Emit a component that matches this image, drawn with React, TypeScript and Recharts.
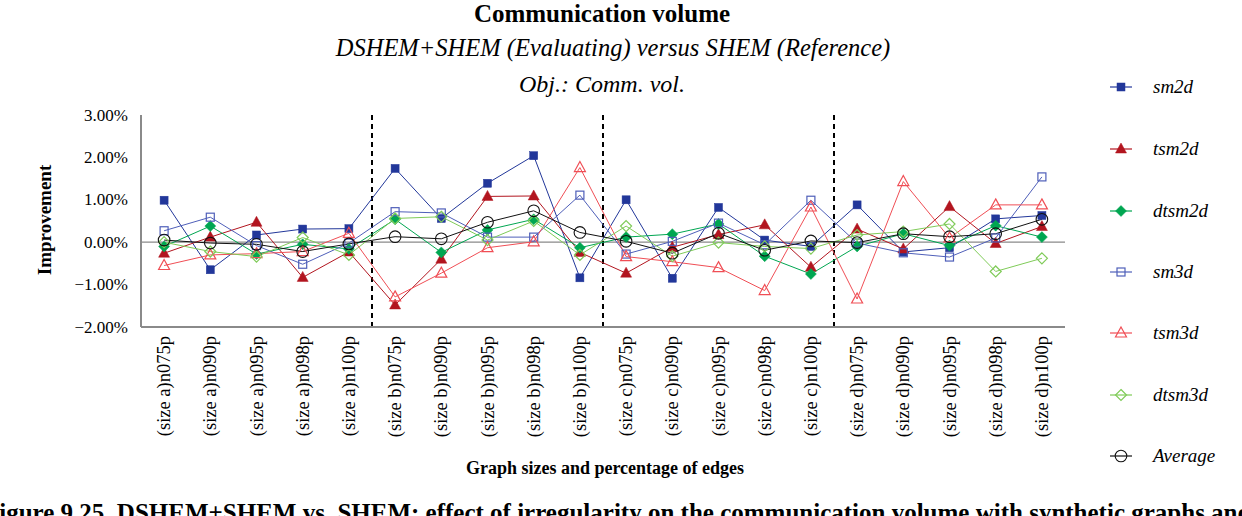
import React from 'react';
import { LineChart, Line, XAxis, YAxis, ReferenceLine } from 'recharts';

const sizes = ['a', 'b', 'c', 'd'];
const edgePcts = ['n075p', 'n090p', 'n095p', 'n098p', 'n100p'];
const categories: string[] = sizes.flatMap((s) => edgePcts.map((p) => `(size ${s})${p}`));

const sm2d = [0.99, -0.65, 0.17, 0.31, 0.32, 1.74, 0.56, 1.39, 2.04, -0.84, 1.0, -0.85, 0.82, 0.05, -0.1, 0.88, -0.23, -0.13, 0.55, 0.63];
const tsm2d = [-0.26, 0.12, 0.47, -0.83, -0.23, -1.48, -0.4, 1.08, 1.09, -0.24, -0.73, -0.12, 0.18, 0.41, -0.59, 0.31, -0.16, 0.84, -0.03, 0.37];
const dtsm2d = [-0.1, 0.38, -0.28, -0.05, -0.16, 0.54, -0.24, 0.29, 0.54, -0.13, 0.12, 0.19, 0.43, -0.33, -0.75, -0.1, 0.2, -0.08, 0.39, 0.12];
const sm3d = [0.27, 0.59, -0.08, -0.52, -0.02, 0.72, 0.69, 0.12, 0.12, 1.11, -0.28, 0.02, 0.45, -0.06, 0.99, -0.02, -0.25, -0.35, 0.1, 1.54];
const tsm3d = [-0.55, -0.3, -0.27, -0.22, 0.21, -1.29, -0.73, -0.13, 0.01, 1.76, -0.34, -0.46, -0.6, -1.14, 0.83, -1.34, 1.43, 0.1, 0.88, 0.88];
const dtsm3d = [0.0, -0.22, -0.34, 0.11, -0.3, 0.56, 0.6, 0.05, 0.5, -0.3, 0.38, -0.33, -0.01, -0.1, -0.15, 0.17, 0.25, 0.43, -0.69, -0.38];
const average = [0.05, -0.02, -0.05, -0.22, -0.04, 0.13, 0.08, 0.47, 0.74, 0.23, 0.02, -0.26, 0.21, -0.19, 0.03, -0.01, 0.2, 0.13, 0.2, 0.54];

const yTicks = [-2, -1, 0, 1, 2, 3];
// group separators sit between categories (after each group of 5)
const groupBoundaries = [5, 10, 15];

type Shape = 'square' | 'triangle' | 'diamond' | 'circle';
interface SeriesDef { key: string; name: string; values: number[]; color: string; shape: Shape; filled: boolean; }

const series: SeriesDef[] = [
  { key: 'sm2d', name: 'sm2d', values: sm2d, color: '#22379a', shape: 'square', filled: true },
  { key: 'tsm2d', name: 'tsm2d', values: tsm2d, color: '#b2151f', shape: 'triangle', filled: true },
  { key: 'dtsm2d', name: 'dtsm2d', values: dtsm2d, color: '#00a651', shape: 'diamond', filled: true },
  { key: 'sm3d', name: 'sm3d', values: sm3d, color: '#4f5fb9', shape: 'square', filled: false },
  { key: 'tsm3d', name: 'tsm3d', values: tsm3d, color: '#f04e55', shape: 'triangle', filled: false },
  { key: 'dtsm3d', name: 'dtsm3d', values: dtsm3d, color: '#7fcb58', shape: 'diamond', filled: false },
  { key: 'avg', name: 'Average', values: average, color: '#111111', shape: 'circle', filled: false },
];

// category i is centred in its slot [i, i+1]
const slotCenters = categories.map((_, i) => i + 0.5);

const data = categories.map((cat, i) => {
  const row: Record<string, string | number> = { cat, pos: slotCenters[i] };
  series.forEach((s) => { row[s.key] = s.values[i]; });
  return row;
});

const FONT = '"Liberation Serif", "DejaVu Serif", serif';

function Marker({ cx, cy, shape, color, filled }: { cx: number; cy: number; shape: Shape; color: string; filled: boolean }) {
  const fill = filled ? color : 'none';
  const sw = filled ? 0.5 : 1.2;
  if (shape === 'square') {
    const s = 8;
    return <rect x={cx - s / 2} y={cy - s / 2} width={s} height={s} fill={fill} stroke={color} strokeWidth={sw} />;
  }
  if (shape === 'triangle') {
    const w = 11, h = 10;
    return <polygon points={`${cx},${cy - h * 0.6} ${cx + w / 2},${cy + h * 0.4} ${cx - w / 2},${cy + h * 0.4}`} fill={fill} stroke={color} strokeWidth={sw} />;
  }
  if (shape === 'diamond') {
    const r = 5.5;
    return <polygon points={`${cx},${cy - r} ${cx + r},${cy} ${cx},${cy + r} ${cx - r},${cy}`} fill={fill} stroke={color} strokeWidth={sw} />;
  }
  return <circle cx={cx} cy={cy} r={5.8} fill="none" stroke={color} strokeWidth={1.1} />;
}

const makeDot = (s: SeriesDef) => (props: any) => {
  const { cx, cy, index } = props;
  if (cx == null || cy == null) return <g key={`${s.key}-${index}`} />;
  return (
    <g key={`${s.key}-${index}`}>
      <Marker cx={cx} cy={cy} shape={s.shape} color={s.color} filled={s.filled} />
    </g>
  );
};

const labelFor = (v: number) => categories[Math.floor(v)] ?? '';

const XTick = (props: any) => {
  const { x, y, payload } = props;
  const ay = y + 1;
  return (
    <text x={x} y={ay} transform={`rotate(-90, ${x}, ${ay})`} textAnchor="end" dominantBaseline="central"
      fontFamily={FONT} fontSize={18.5} fill="#000">
      {labelFor(payload.value)}
    </text>
  );
};

const fmtY = (v: number) => {
  const s = `${Math.abs(v).toFixed(2)}%`;
  return v < 0 ? `\u2212${s}` : s;
};

const YTick = (props: any) => {
  const { x, y, payload } = props;
  return (
    <text x={x} y={y} textAnchor="end" dominantBaseline="central" fontFamily={FONT} fontSize={17} fill="#000">
      {fmtY(payload.value)}
    </text>
  );
};

const legendY = [87, 149, 211, 272, 333, 395, 456];

export default function App() {
  return (
    <div style={{ position: 'absolute', left: 0, top: 0, width: 1242, height: 516, overflow: 'hidden', background: '#fff' }}>
      <LineChart width={1242} height={516} data={data} margin={{ top: 115, right: 177, bottom: 0, left: 0 }}>
        <XAxis dataKey="pos" type="number" domain={[0, categories.length]} ticks={slotCenters} interval={0}
          height={189} tick={<XTick />} tickLine={false} allowDataOverflow
          axisLine={{ stroke: '#8a8a8a', strokeWidth: 2 }} />
        <YAxis domain={[-2, 3]} ticks={yTicks} width={141} tick={<YTick />} tickLine={false} tickMargin={7}
          axisLine={{ stroke: '#8a8a8a', strokeWidth: 2 }} interval={0} />
        <ReferenceLine y={0} stroke="#8a8a8a" strokeWidth={1.2} />
        {groupBoundaries.map((b) => (
          <ReferenceLine key={b} x={b} stroke="#000" strokeWidth={2} strokeDasharray="5 4" />
        ))}
        {series.map((s) => (
          <Line key={s.key} dataKey={s.key} name={s.name} type="linear" stroke={s.color} strokeWidth={1}
            dot={makeDot(s)} activeDot={false} isAnimationActive={false} />
        ))}
      </LineChart>
      <svg width={1242} height={516} style={{ position: 'absolute', left: 0, top: 0, pointerEvents: 'none' }}>
        <text x={602} y={22} textAnchor="middle" fontFamily={FONT} fontWeight="bold" fontSize={25}>Communication volume</text>
        <text x={613} y={56} textAnchor="middle" fontFamily={FONT} fontStyle="italic" fontSize={24.5}>DSHEM+SHEM (Evaluating) versus SHEM (Reference)</text>
        <text x={602} y={92} textAnchor="middle" fontFamily={FONT} fontStyle="italic" fontSize={24}>Obj.: Comm. vol.</text>
        <text x={0} y={0} transform="translate(51, 220) rotate(-90)" textAnchor="middle" fontFamily={FONT} fontWeight="bold" fontSize={19}>Improvement</text>
        <text x={605} y={474} textAnchor="middle" fontFamily={FONT} fontWeight="bold" fontSize={18}>Graph sizes and percentage of edges</text>
        <text x={-16} y={521} fontFamily={FONT} fontWeight="bold" fontSize={25}>Figure 9.25. DSHEM+SHEM vs. SHEM: effect of irregularity on the communication volume with synthetic graphs and</text>
        {series.map((s, i) => (
          <g key={s.key}>
            <line x1={1110} x2={1132} y1={legendY[i]} y2={legendY[i]} stroke={s.color} strokeWidth={1.2} />
            <Marker cx={1121} cy={legendY[i]} shape={s.shape} color={s.color} filled={s.filled} />
            <text x={1153} y={legendY[i] + 6} fontFamily={FONT} fontStyle="italic" fontSize={19}>{s.name}</text>
          </g>
        ))}
      </svg>
    </div>
  );
}
